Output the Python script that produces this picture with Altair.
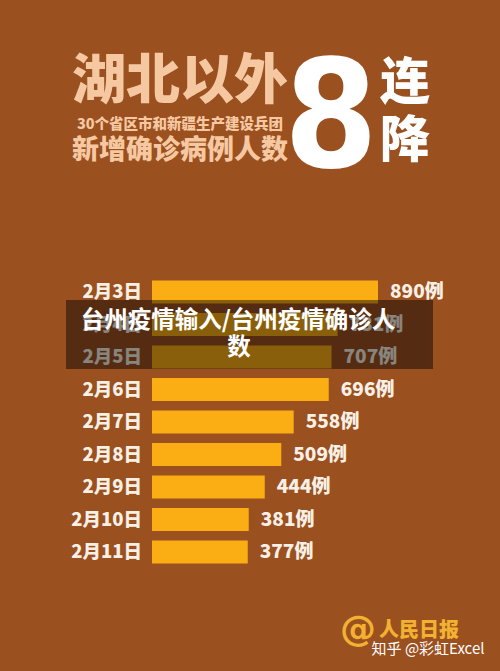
import altair as alt
import pandas as pd

dates = ["2月3日", "2月4日", "2月5日", "2月6日", "2月7日", "2月8日", "2月9日", "2月10日", "2月11日"]
values = [890, 731, 707, 696, 558, 509, 444, 381, 377]
value_labels = [f"{v}例" for v in values]

title_main = "湖北以外"
title_sub = "30个省区市和新疆生产建设兵团"
title_sub2 = "新增确诊病例人数"
big_num = "8"
big_chars = ["连", "降"]
overlay_lines = ["台州疫情输入/台州疫情确诊人", "数"]
logo_at = "@"
logo_text = "人民日报"
watermark = "知乎 @彩虹Excel"

BG = "#9B501F"
BAR = "#FBAE14"
PEACH = "#F5C8A2"
CJK = "Noto Sans CJK SC"

df = pd.DataFrame({
    "date": dates,
    "value": values,
    "label": value_labels,
    "idx": list(range(len(dates))),
})

xs = alt.Scale(domain=[0, 890], range=[152, 378])
ys = alt.Scale(domain=[0, 8], range=[287, 557])

base = alt.Chart(df)

bars = base.mark_bar(color=BAR, size=23, orient="horizontal").encode(
    x=alt.X("value:Q", scale=xs, axis=None),
    x2=alt.datum(0),
    y=alt.Y("idx:Q", scale=ys, axis=None),
)

date_text = base.mark_text(
    align="right", baseline="middle", font=CJK, fontSize=18.5, fontWeight=900, color="#F8F0E6"
).encode(
    x=alt.value(142),
    y=alt.Y("idx:Q", scale=ys, axis=None),
    text="date:N",
)

val_text = base.mark_text(
    align="left", baseline="middle", dx=12, font=CJK, fontSize=19, fontWeight=900, color="#F8F0E6"
).encode(
    x=alt.X("value:Q", scale=xs, axis=None),
    y=alt.Y("idx:Q", scale=ys, axis=None),
    text="label:N",
)

def txt(s, x, y, size, color, weight=900, font=CJK, align="center", baseline="middle", opacity=1.0):
    return alt.Chart(pd.DataFrame({"t": [s]})).mark_text(
        align=align, baseline=baseline, font=font, fontSize=size, fontWeight=weight,
        color=color, opacity=opacity
    ).encode(x=alt.value(x), y=alt.value(y), text="t:N")

t1 = txt(title_main, 180, 83, 54, PEACH)
t2 = txt(title_sub, 180, 125, 14.5, PEACH)
t3 = txt(title_sub2, 180, 151, 27, PEACH)
t8 = txt(big_num, 331, 167, 150, "#FFFFFF", weight="bold",
         font="'Liberation Sans Narrow', 'DejaVu Sans Condensed', 'Liberation Sans', sans-serif",
         baseline="alphabetic")
tc1 = txt(big_chars[0], 405, 84, 50, "#FFFFFF")
tc2 = txt(big_chars[1], 405, 142, 50, "#FFFFFF")

overlay = alt.Chart(pd.DataFrame({"a": [1]})).mark_rect(color="#000000", opacity=0.45).encode(
    x=alt.value(66), x2=alt.value(433), y=alt.value(300), y2=alt.value(369)
)
o1 = txt(overlay_lines[0], 238, 321, 23.5, "#FFFFFF", weight=700)
o2 = txt(overlay_lines[1], 239, 348, 23.5, "#FFFFFF", weight=700)

l1 = txt(logo_at, 358, 630, 36, "#F2B131", weight=700, font="DejaVu Sans")
l2 = txt(logo_text, 419, 631, 20, "#F2B131")
wm = txt(watermark, 428, 649, 15, "#FFFFFF", weight=400)

chart = alt.layer(
    bars, date_text, val_text, t1, t2, t3, t8, tc1, tc2, overlay, o1, o2, l1, l2, wm
).properties(
    width=500, height=671, autosize=alt.AutoSizeParams(type="none"), padding=0,
    background=BG
).configure_view(stroke=None)

chart.save("out.html", embed_options={"renderer": "svg", "actions": False})
